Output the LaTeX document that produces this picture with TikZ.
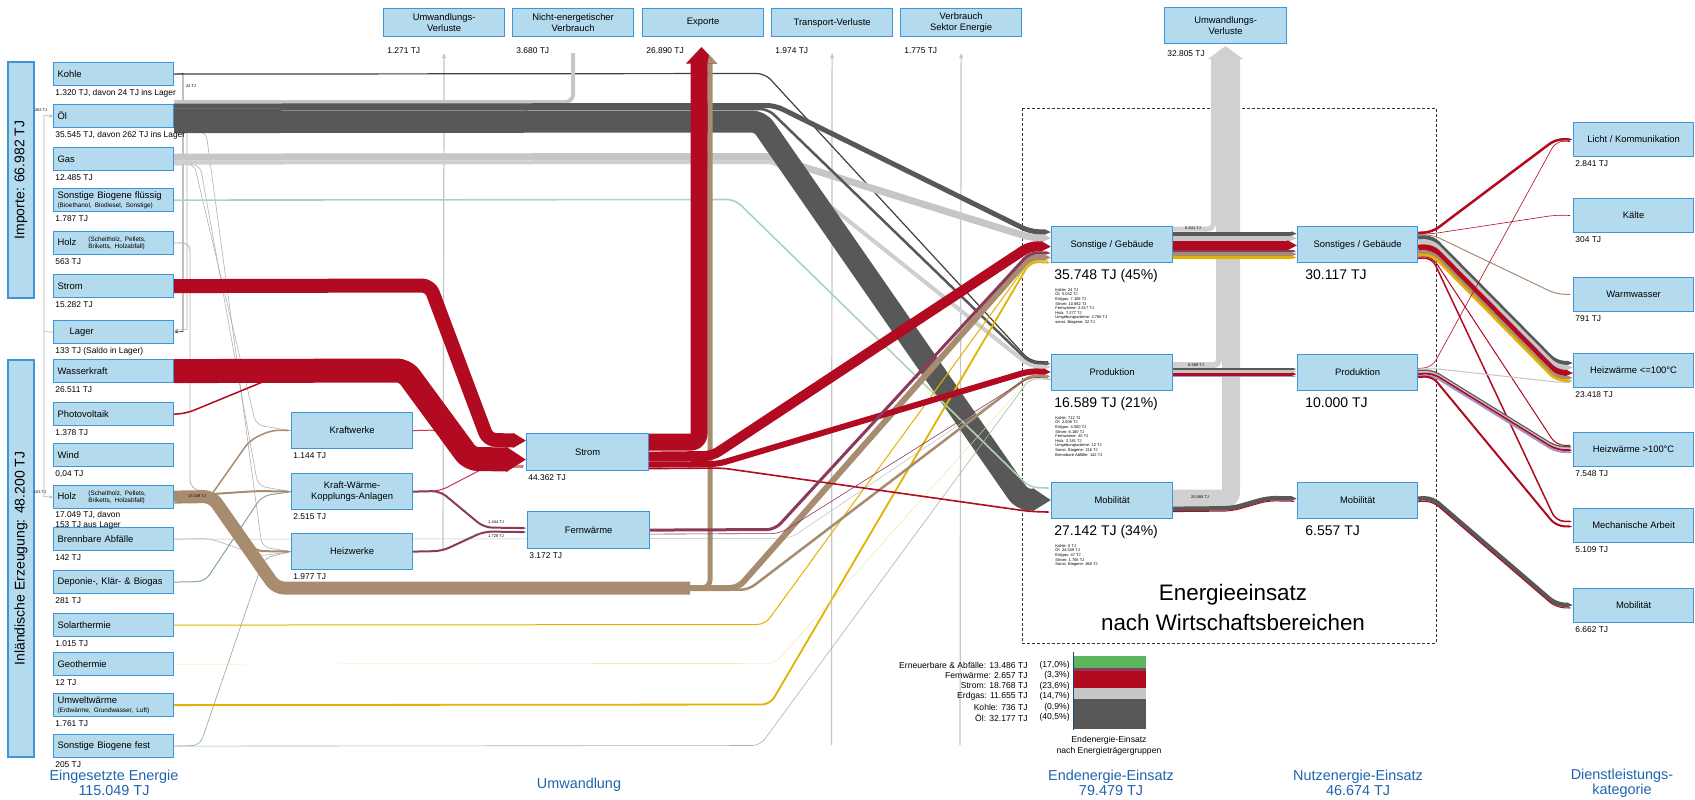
\documentclass[tikz,border=0pt]{standalone}
\usepackage{fontspec}
\setmainfont{Liberation Sans}
\usetikzlibrary{arrows.meta,backgrounds}

\definecolor{boxfill}{RGB}{180,218,238}
\definecolor{boxline}{RGB}{60,150,215}
\definecolor{titleblue}{RGB}{30,100,175}
\definecolor{oelc}{RGB}{88,88,88}
\definecolor{gasc}{RGB}{198,198,198}
\definecolor{stromc}{RGB}{178,10,32}
\definecolor{holzc}{RGB}{168,140,112}
\definecolor{fwc}{RGB}{140,58,92}
\definecolor{solc}{RGB}{226,178,0}
\definecolor{biogc}{RGB}{170,214,184}
\definecolor{lossc}{RGB}{208,208,208}
\definecolor{lavc}{RGB}{160,150,200}
\definecolor{greenc}{RGB}{92,182,92}

\tikzset{
  ebox/.style={draw=boxline, fill=boxfill, line width=0.6pt, font=\fontsize{4.7}{5.6}\selectfont, inner ysep=1pt},
  inbox/.style={ebox, anchor=north west, text width=56pt, inner xsep=2pt, minimum height=11.5pt, align=left},
  cbox/.style={ebox, anchor=north west, minimum width=60.5pt, minimum height=18pt, align=center},
  tbox/.style={cbox, minimum height=14pt},
  vbox/.style={ebox, rotate=90, minimum height=13pt, font=\fontsize{7}{8}\selectfont},
  val/.style={anchor=north west, inner sep=0.5pt, font=\fontsize{4.2}{4.7}\selectfont, align=left},
  bigval/.style={anchor=north west, inner sep=0.5pt, font=\fontsize{7}{8}\selectfont},
  detail/.style={anchor=north west, inner sep=0.5pt, font=\fontsize{2}{2.3}\selectfont, align=left},
  flowlbl/.style={inner sep=0pt, font=\fontsize{2}{2.4}\selectfont},
  coltitle/.style={text=titleblue, align=center, font=\fontsize{7.2}{7.6}\selectfont},
  legtxt/.style={anchor=east, inner sep=0pt, font=\fontsize{4.3}{5}\selectfont},
  bw/.style={line width=#1*0.5pt},
  flowtip/.style={-{Triangle[width=0pt 1,length=1.5pt 0.7]}},
  band/.style={rounded corners=4pt, line join=round},
  thinln/.style={line width=0.3pt, gray!60},
  lossline/.style={line width=0.6pt, gasc, -{Triangle[length=2.5pt,width=2pt]}},
}

\begin{document}
\begin{tikzpicture}[x=0.5pt,y=-0.5pt]
\useasboundingbox (0,0) rectangle (1695,799);

% Eingesetzte Energie
\node[vbox, minimum width=118pt] (importe) at (21,180) {Importe: 66.982 TJ};
\node[vbox, minimum width=198.5pt] (inland) at (21,558.5) {Inländische Erzeugung: 48.200 TJ};

\node[inbox] (kohle) at (53,62) {Kohle};
\node[inbox] (oel) at (53,104) {Öl};
\node[inbox] (gas) at (53,147) {Gas};
\node[inbox] (sbfl) at (53,188) {Sonstige Biogene flüssig\\[-1.2pt]\fontsize{3.2}{3.6}\selectfont (Bioethanol, Biodiesel, Sonstige)};
\node[inbox] (holzim) at (53,231) {Holz\hspace{6pt}\parbox[c]{32pt}{\fontsize{3.2}{3.6}\selectfont (Scheitholz, Pellets,\\ Briketts, Holzabfall)}};
\node[inbox] (stromim) at (53,274) {Strom};
\node[inbox] (lager) at (53,320) {\hspace{6pt}Lager};
\node[inbox] (wasser) at (53,359) {Wasserkraft};
\node[inbox] (pv) at (53,402) {Photovoltaik};
\node[inbox] (wind) at (53,443) {Wind};
\node[inbox] (holz) at (53,485) {Holz\hspace{6pt}\parbox[c]{32pt}{\fontsize{3.2}{3.6}\selectfont (Scheitholz, Pellets,\\ Briketts, Holzabfall)}};
\node[inbox] (abf) at (53,527) {Brennbare Abfälle};
\node[inbox] (dep) at (53,570) {Deponie-, Klär- \& Biogas};
\node[inbox] (solar) at (53,613) {Solarthermie};
\node[inbox] (geo) at (53,652) {Geothermie};
\node[inbox] (umw) at (53,693) {Umweltwärme\\[-1.2pt]\fontsize{3.2}{3.6}\selectfont (Erdwärme, Grundwasser, Luft)};
\node[inbox] (sbfe) at (53,734) {Sonstige Biogene fest};

\node[val] (kohle-v) at ([xshift=0.5pt,yshift=-1pt]kohle.south west) {1.320 TJ, davon 24 TJ ins Lager};
\node[val] (oel-v) at ([xshift=0.5pt,yshift=-1pt]oel.south west) {35.545 TJ, davon 262 TJ ins Lager};
\node[val] (gas-v) at ([xshift=0.5pt,yshift=-1pt]gas.south west) {12.485 TJ};
\node[val] (sbfl-v) at ([xshift=0.5pt,yshift=-1pt]sbfl.south west) {1.787 TJ};
\node[val] (holzim-v) at ([xshift=0.5pt,yshift=-1pt]holzim.south west) {563 TJ};
\node[val] (stromim-v) at ([xshift=0.5pt,yshift=-1pt]stromim.south west) {15.282 TJ};
\node[val] (lager-v) at ([xshift=0.5pt,yshift=-1pt]lager.south west) {133 TJ (Saldo in Lager)};
\node[val] (wasser-v) at ([xshift=0.5pt,yshift=-1pt]wasser.south west) {26.511 TJ};
\node[val] (pv-v) at ([xshift=0.5pt,yshift=-1pt]pv.south west) {1.378 TJ};
\node[val] (wind-v) at ([xshift=0.5pt,yshift=-1pt]wind.south west) {0,04 TJ};
\node[val] (holz-v) at ([xshift=0.5pt,yshift=-0.6pt]holz.south west) {17.049 TJ, davon\\153 TJ aus Lager};
\node[val] (abf-v) at ([xshift=0.5pt,yshift=-1pt]abf.south west) {142 TJ};
\node[val] (dep-v) at ([xshift=0.5pt,yshift=-1pt]dep.south west) {281 TJ};
\node[val] (solar-v) at ([xshift=0.5pt,yshift=-1pt]solar.south west) {1.015 TJ};
\node[val] (geo-v) at ([xshift=0.5pt,yshift=-1pt]geo.south west) {12 TJ};
\node[val] (umw-v) at ([xshift=0.5pt,yshift=-1pt]umw.south west) {1.761 TJ};
\node[val] (sbfe-v) at ([xshift=0.5pt,yshift=-1pt]sbfe.south west) {205 TJ};

% Verluste und Exporte oben
\node[tbox] (uv1) at (383,8) {Umwandlungs-\\Verluste};
\node[tbox] (nev) at (512,8) {Nicht-energetischer\\Verbrauch};
\node[tbox] (exp) at (642,8) {Exporte};
\node[tbox] (tv) at (771,8) {Transport-Verluste};
\node[tbox] (vse) at (900,8) {Verbrauch\\Sektor Energie};
\node[cbox, minimum width=61pt] (uv2) at (1164,7) {Umwandlungs-\\Verluste};

\node[val] (uv1-v) at ([xshift=1.5pt,yshift=-4.5pt]uv1.south west) {1.271 TJ};
\node[val] (nev-v) at ([xshift=1.5pt,yshift=-4.5pt]nev.south west) {3.680 TJ};
\node[val] (exp-v) at ([xshift=1.5pt,yshift=-4.5pt]exp.south west) {26.890 TJ};
\node[val] (tv-v) at ([xshift=1.5pt,yshift=-4.5pt]tv.south west) {1.974 TJ};
\node[val] (vse-v) at ([xshift=1.5pt,yshift=-4.5pt]vse.south west) {1.775 TJ};
\node[val] (uv2-v) at ([xshift=1pt,yshift=-2.5pt]uv2.south west) {32.805 TJ};

% Umwandlung
\node[cbox] (kw) at (291,412) {Kraftwerke};
\node[cbox] (kwk) at (291,473) {Kraft-Wärme-\\Kopplungs-Anlagen};
\node[cbox] (hw) at (291,533) {Heizwerke};
\node[cbox, minimum width=61pt, minimum height=18.5pt] (strom) at (526,433) {Strom};
\node[cbox, minimum width=61pt, minimum height=18.5pt] (fw) at (527,511) {Fernwärme};

\node[val] (kw-v) at ([xshift=0.5pt,yshift=-1pt]kw.south west) {1.144 TJ};
\node[val] (kwk-v) at ([xshift=0.5pt,yshift=-1pt]kwk.south west) {2.515 TJ};
\node[val] (hw-v) at ([xshift=0.5pt,yshift=-1pt]hw.south west) {1.977 TJ};
\node[val] (strom-v) at ([xshift=0.5pt,yshift=-1pt]strom.south west) {44.362 TJ};
\node[val] (fw-v) at ([xshift=0.5pt,yshift=-1pt]fw.south west) {3.172 TJ};

% Endenergie-Einsatz
\node[cbox] (sonst) at (1051,226) {Sonstige / Gebäude};
\node[cbox] (prod) at (1051,354) {Produktion};
\node[cbox] (mob) at (1051,482) {Mobilität};

\node[bigval] (sonst-v) at ([xshift=1pt,yshift=-2.5pt]sonst.south west) {35.748 TJ (45\%)};
\node[bigval] (prod-v) at ([xshift=1pt,yshift=-2.5pt]prod.south west) {16.589 TJ (21\%)};
\node[bigval] (mob-v) at ([xshift=1pt,yshift=-2.5pt]mob.south west) {27.142 TJ (34\%)};
\node[detail] (sonst-d) at ([xshift=0.5pt,yshift=-1.5pt]sonst-v.south west) {Kohle: 24 TJ\\Öl: 5.042 TJ\\Erdgas: 7.108 TJ\\Strom: 10.882 TJ\\Fernwärme: 2.617 TJ\\Holz: 7.277 TJ\\Umgebungswärme: 2.766 TJ\\sonst. Biogene: 32 TJ};
\node[detail] (prod-d) at ([xshift=0.5pt,yshift=-1.5pt]prod-v.south west) {Kohle: 712 TJ\\Öl: 2.606 TJ\\Erdgas: 4.500 TJ\\Strom: 6.180 TJ\\Fernwärme: 40 TJ\\Holz: 2.181 TJ\\Umgebungswärme: 12 TJ\\Sonst. Biogene: 216 TJ\\Brennbare Abfälle: 142 TJ};
\node[detail] (mob-d) at ([xshift=0.5pt,yshift=-1.5pt]mob-v.south west) {Kohle: 0 TJ\\Öl: 24.529 TJ\\Erdgas: 47 TJ\\Strom: 1.706 TJ\\Sonst. Biogene: 860 TJ};

% Nutzenergie-Einsatz
\node[cbox, minimum width=60pt] (sonstN) at (1297,226) {Sonstiges / Gebäude};
\node[cbox, minimum width=60pt] (prodN) at (1297,354) {Produktion};
\node[cbox, minimum width=60pt] (mobN) at (1297,482) {Mobilität};

\node[bigval] (sonstN-v) at ([xshift=3.5pt,yshift=-2.5pt]sonstN.south west) {30.117 TJ};
\node[bigval] (prodN-v) at ([xshift=3.5pt,yshift=-2.5pt]prodN.south west) {10.000 TJ};
\node[bigval] (mobN-v) at ([xshift=3.5pt,yshift=-2.5pt]mobN.south west) {6.557 TJ};

% Dienstleistungskategorie
\node[cbox, minimum width=60pt, minimum height=17pt] (licht) at (1573,122) {Licht / Kommunikation};
\node[cbox, minimum width=60pt, minimum height=17pt] (kaelte) at (1573,198) {Kälte};
\node[cbox, minimum width=60pt, minimum height=17pt] (warm) at (1573,277) {Warmwasser};
\node[cbox, minimum width=60pt, minimum height=17pt] (hw1) at (1573,353) {Heizwärme <=100°C};
\node[cbox, minimum width=60pt, minimum height=17pt] (hw2) at (1573,432) {Heizwärme >100°C};
\node[cbox, minimum width=60pt, minimum height=17pt] (mech) at (1573,508) {Mechanische Arbeit};
\node[cbox, minimum width=60pt, minimum height=17pt] (mobD) at (1573,588) {Mobilität};

\node[val] (licht-v) at ([xshift=0.5pt,yshift=-1pt]licht.south west) {2.841 TJ};
\node[val] (kaelte-v) at ([xshift=0.5pt,yshift=-1pt]kaelte.south west) {304 TJ};
\node[val] (warm-v) at ([xshift=0.5pt,yshift=-1pt]warm.south west) {791 TJ};
\node[val] (hw1-v) at ([xshift=0.5pt,yshift=-1pt]hw1.south west) {23.418 TJ};
\node[val] (hw2-v) at ([xshift=0.5pt,yshift=-1pt]hw2.south west) {7.548 TJ};
\node[val] (mech-v) at ([xshift=0.5pt,yshift=-1pt]mech.south west) {5.109 TJ};
\node[val] (mobD-v) at ([xshift=0.5pt,yshift=-1pt]mobD.south west) {6.662 TJ};

% Titel
\node[coltitle] (t-einsatz) at (114,783) {Eingesetzte Energie\\115.049 TJ};
\node[coltitle] (t-umw) at (579,785) {Umwandlung};
\node[coltitle] (t-end) at (1111,783) {Endenergie-Einsatz\\79.479 TJ};
\node[coltitle] (t-nutz) at (1358,783) {Nutzenergie-Einsatz\\46.674 TJ};
\node[coltitle] (t-dienst) at (1622,783) {Dienstleistungs-\\kategorie};
\node[align=center, font=\fontsize{11.2}{15}\selectfont] (wtitle) at (1233,607) {Energieeinsatz\\nach Wirtschaftsbereichen};

% Legende
\node[legtxt] (l-ern) at (1028,665) {Erneuerbare \& Abfälle: 13.486 TJ};
\node[legtxt] (l-fw) at (1028,675.5) {Fernwärme: 2.657 TJ};
\node[legtxt] (l-str) at (1028,686) {Strom: 18.768 TJ};
\node[legtxt] (l-gas) at (1028,696.5) {Erdgas: 11.655 TJ};
\node[legtxt] (l-koh) at (1028,707) {Kohle: 736 TJ};
\node[legtxt] (l-oel) at (1028,717.5) {Öl: 32.177 TJ};
\node[legtxt] (p-ern) at (1070,665) {(17,0\%)};
\node[legtxt] (p-fw) at (1070,675.5) {(3,3\%)};
\node[legtxt] (p-str) at (1070,686) {(23,6\%)};
\node[legtxt] (p-gas) at (1070,696.5) {(14,7\%)};
\node[legtxt] (p-koh) at (1070,707) {(0,9\%)};
\node[legtxt] (p-oel) at (1070,717.5) {(40,5\%)};
\fill[greenc] (1074,656) rectangle (1146,668.4);
\fill[fwc] (1074,668.4) rectangle (1146,670.8);
\fill[stromc] (1074,670.8) rectangle (1146,688);
\fill[gasc] (1074,688) rectangle (1146,698.7);
\fill[black!85] (1074,698.7) rectangle (1146,699.4);
\fill[oelc] (1074,699.4) rectangle (1146,729);
\draw[line width=0.4pt, boxline!50!black] (1073,652) -- (1073,730);
\node[align=center, font=\fontsize{4.3}{5.4}\selectfont] (l-cap) at (1109,746) {Endenergie-Einsatz\\nach Energieträgergruppen};

% kleine Flussbeschriftungen
\node[flowlbl] (f-kl) at (191,86) {24 TJ};
\node[flowlbl] (f-ol) at (41,110) {262 TJ};
\node[flowlbl] (f-hl) at (40,492) {153 TJ};
\node[flowlbl] (f-holz) at (197,496.5) {17.049 TJ};
\node[flowlbl] (f-fw1) at (496,522) {1.444 TJ};
\node[flowlbl] (f-fw2) at (496,536) {1.728 TJ};
\node[flowlbl] (f-vs) at (1193,228) {5.631 TJ};
\node[flowlbl] (f-vp) at (1196,365) {6.589 TJ};
\node[flowlbl] (f-vm) at (1200,497) {20.585 TJ};

\begin{scope}[on background layer]
\fill[white] (0,0) rectangle (1695,799);
\draw[dash pattern=on 1.5pt off 1pt, line width=0.4pt, black!80] (1022,108) rectangle (1436,643);

% Lager
\coordinate (lj) at (44,331.5);
\draw[thinln, -{Stealth[length=2pt,width=1.5pt]}] (lager.west) -- (lj) -- (44,115.5) -- (oel.west);
\draw[thinln, -{Stealth[length=2pt,width=1.5pt]}] (lj) -- (44,496.5) -- (holz.west);
\draw[line width=0.4pt, black!70, -{Stealth[length=2pt,width=1.5pt]}] (kohle.east) -- (183,73.5) -- (183,331.5) -- (lager.east);
\draw[thinln, -{Stealth[length=2pt,width=1.5pt]}] ([yshift=-7.5pt]oel.east) -- (187,130.5) -- (187,329.5) -- ([yshift=1pt]lager.east);

% Verluste nach oben
\coordinate (uvj) at (443,551);
\coordinate (tvj) at (831.5,745);
\coordinate (vsej) at (960,745);
\draw[lossline] (uvj) -- ([yshift=-8pt]uv1.south);
\draw[lossline] (tvj) -- ([yshift=-8pt]tv.south);
\draw[lossline] (vsej) -- ([yshift=-8pt]vse.south);

% Brennstoffe in Kraftwerke
\draw[thinln, band] ([yshift=-2.5pt]gas.east) -- (194,163.5) -- (256,425) -- (kw.west);
\draw[thinln, band] ([yshift=-3pt]gas.east) -- (200,164.5) -- (258,486) -- (kwk.west);
\draw[thinln, band] ([yshift=-8pt]oel.east) -- (206,131.5) -- (262,547) -- (hw.west);
\draw[thinln, band] (abf.east) -- (210,538.5) -- (260,556) -- (hw.west);
\draw[band, bw=1, biogc!80!black] (dep.east) -- (205,581.5) -- (262,496) -- (kwk.west);
\draw[band, bw=0.6, biogc!80!black] (sbfe.east) -- (200,745.5) -- (264,558) -- (hw.west);

% Kohle, Gas
\draw[band, bw=1.2, black!75, flowtip] (kohle.east) -- (765,73.5) -- (1030,361) -- ([yshift=5.25pt]prod.west);
\draw[band, bw=7, gasc, flowtip] ([yshift=1pt]gas.east) -- (770,156.5) -- (1030,237.5) -- ([yshift=3.25pt]sonst.west);
\draw[band, bw=4, gasc!85!white, flowtip] ([yshift=-1.75pt]gas.east) -- (775,162) -- (1030,366) -- ([yshift=2.75pt]prod.west);

% Oel
\draw[band, bw=4, gasc] ([yshift=7pt]oel.east) -| ([yshift=-8pt]nev.south);
\draw[band, bw=5, oelc, flowtip] ([yshift=5pt]oel.east) -- (775,105.5) -- (1030,231.5) -- ([yshift=6.25pt]sonst.west);
\draw[band, bw=2.5, oelc, flowtip] ([yshift=3.25pt]oel.east) -- (768,109) -- (1030,362.75) -- ([yshift=4.375pt]prod.west);
\draw[band, bw=22, oelc, flowtip] ([yshift=-3pt]oel.east) -- (760,121.5) -- (1022,499.5) -- ([yshift=0.25pt]mob.west);

% Biogene, Solar, Umwelt
\draw[band, bw=1.6, biogc, flowtip] (sbfl.east) -- (735,199.5) -- (1030,487.5) -- ([yshift=6.25pt]mob.west);
\draw[band, bw=1, solc, flowtip] (solar.east) -- (765,624.5) -- (1030,260.5) -- ([yshift=-8.25pt]sonst.west);
\draw[band, bw=1.8, solc, flowtip] (umw.east) -- (770,704.5) -- (1030,262) -- ([yshift=-9pt]sonst.west);
\draw[band, bw=0.4, solc!40] (geo.east) -- (775,663.5) -- (1030,378) -- ([yshift=-3.25pt]prod.west);
\draw[band, bw=0.5, gray!50] (abf.east) -- (790,538.5) -- (1030,377) -- ([yshift=-2.75pt]prod.west);
\draw[band, bw=0.6, biogc!70!gray] (sbfe.east) -- (760,745.5) -- (1030,378.5) -- ([yshift=-3.5pt]prod.west);

% Holz
\coordinate (hj) at (212,494);
\coordinate (hx) at (690,588);
\draw[band, bw=0.8, holzc!70] (holzim.east) -- (190,242.5) -- (190,488) -- (hj);
\draw[band, bw=13, holzc] (holz.east) -- (212,496.5) -- (276,588) -- (hx);
\draw[band, bw=1.5, holzc, flowtip] (hj) -- (250,440) -- (272,430) -- (kw.west);
\draw[band, bw=2, holzc, flowtip] (hj) -- (258,491) -- (kwk.west);
\draw[band, bw=2, holzc, flowtip] (hj) -- (255,551) -- (hw.west);
\draw[band, bw=5, holzc] (hx) -- (710,588) -- (710,63);
\draw[band, bw=6, holzc, flowtip] (hx) -- (738,588) -- (1030,257) -- ([yshift=-6.5pt]sonst.west);
\draw[band, bw=2.5, holzc, flowtip] (hx) -- (748,590) -- (1030,375.25) -- ([yshift=-1.875pt]prod.west);

% Strom
\coordinate (pvj) at (265,381);
\draw[band, bw=1.5, stromc] (pv.east) -- (186,413.5) -- (pvj);
\draw[band, bw=1, stromc!80, flowtip] (kw.east) -- (438,430) -- (486,465) -- ([yshift=-7pt]strom.west);
\draw[band, bw=1, stromc!80, flowtip] (kwk.east) -- (440,491) -- (486,467) -- ([yshift=-7.5pt]strom.west);
\draw[band, bw=14, stromc, flowtip] (stromim.east) -- (430,285.5) -- (488,440) -- ([yshift=5.75pt]strom.west);
\draw[band, bw=24, stromc, flowtip] (wasser.east) -- (405,370.5) -- (470,459) -- ([yshift=-3.75pt]strom.west);
\draw[band, bw=17, stromc] ([yshift=5pt]strom.east) -| (699,63);
\fill[stromc] (686,63.5) -- (701.5,47) -- (717,63.5) -- cycle;
\fill[holzc] (707.5,63.5) -- (717,63.5) -- (709,55) -- cycle;
\draw[band, bw=10, stromc, flowtip] ([yshift=-2.25pt]strom.east) -- (712,456) -- (1030,246) -- ([yshift=-1pt]sonst.west);
\draw[band, bw=6, stromc, flowtip] ([yshift=-6.25pt]strom.east) -- (718,464) -- (1030,371) -- ([yshift=0.25pt]prod.west);
\draw[band, bw=1.6, stromc, flowtip] ([yshift=-8.25pt]strom.east) -- (722,468) -- (1030,511.5) -- ([yshift=-5.75pt]mob.west);

% Fernwaerme
\draw[band, bw=2, fwc, flowtip] (kwk.east) -- (440,491) -- (484,527.5) -- ([yshift=1pt]fw.west);
\draw[band, bw=2, fwc, flowtip] (hw.east) -- (442,551) -- (484,531.5) -- ([yshift=-1pt]fw.west);
\draw[band, bw=3, fwc, flowtip] (fw.east) -- (775,529.5) -- (1030,252.5) -- ([yshift=-4.25pt]sonst.west);
\draw[band, bw=0.6, fwc, flowtip] ([yshift=-2pt]fw.east) -- (780,533.5) -- (1030,377) -- ([yshift=-2.75pt]prod.west);

% Umwandlungsverluste der Wirtschaftsbereiche
\draw[band, bw=5, lossc, rounded corners=3pt] ([yshift=7.75pt]sonst.east) -| (1213.5,58.5);
\draw[band, bw=6, lossc, rounded corners=3pt] ([yshift=3.75pt]prod.east) -| (1219,58.5);
\draw[band, bw=18, lossc, rounded corners=3pt] ([yshift=1pt]mob.east) -| (1231,58.5);
\fill[lossc] (1208,59) -- (1225.5,46) -- (1243,59) -- cycle;

% Endenergie zu Nutzenergie
\draw[bw=4, oelc, flowtip] ([yshift=5.5pt]sonst.east) -- ([yshift=5.5pt]sonstN.west);
\draw[bw=5, gasc, flowtip] ([yshift=3.25pt]sonst.east) -- ([yshift=3.25pt]sonstN.west);
\draw[bw=9.5, stromc, flowtip] ([yshift=-0.375pt]sonst.east) -- ([yshift=-0.375pt]sonstN.west);
\draw[bw=2, fwc, flowtip] ([yshift=-3.25pt]sonst.east) -- ([yshift=-3.25pt]sonstN.west);
\draw[bw=4, holzc, flowtip] ([yshift=-4.75pt]sonst.east) -- ([yshift=-4.75pt]sonstN.west);
\draw[bw=2.5, solc, flowtip] ([yshift=-6.375pt]sonst.east) -- ([yshift=-6.375pt]sonstN.west);
\draw[bw=2, oelc, flowtip] ([yshift=1.75pt]prod.east) -- ([yshift=1.75pt]prodN.west);
\draw[bw=2.5, gasc, flowtip] ([yshift=0.625pt]prod.east) -- ([yshift=0.625pt]prodN.west);
\draw[bw=3, stromc, flowtip] ([yshift=-0.75pt]prod.east) -- ([yshift=-0.75pt]prodN.west);
\draw[bw=1.5, lavc, flowtip] ([yshift=-1.875pt]prod.east) -- ([yshift=-1.875pt]prodN.west);
\draw[band, bw=4.5, oelc, flowtip] ([yshift=-4.125pt]mob.east) -- (1232,508.25) -- (1268,498) -- ([yshift=1pt]mobN.west);
\draw[band, bw=1, stromc, flowtip] ([yshift=-5.5pt]mob.east) -- (1232,511) -- (1268,500.75) -- ([yshift=-0.375pt]mobN.west);

% Nutzenergie zu Dienstleistungen
\draw[band, bw=2.5, stromc, flowtip] ([yshift=5.875pt]sonstN.east) -- (1432,232.25) -- (1556,139) -- (licht.west);
\draw[band, bw=0.6, stromc, flowtip] ([yshift=5.1pt]sonstN.east) -- (1432,233.8) -- (1556,215) -- (kaelte.west);
\draw[band, bw=1, holzc, flowtip] ([yshift=4.7pt]sonstN.east) -- (1432,234.6) -- (1556,294) -- (warm.west);
\draw[band, bw=4, oelc, flowtip] ([yshift=3.5pt]sonstN.east) -- (1432,237) -- (1556,362.5) -- ([yshift=3.75pt]hw1.west);
\draw[band, bw=5, gasc, flowtip] ([yshift=1.25pt]sonstN.east) -- (1432,241.5) -- (1556,367) -- ([yshift=1.5pt]hw1.west);
\draw[band, bw=6, stromc, flowtip] ([yshift=-1.5pt]sonstN.east) -- (1432,247) -- (1556,372.5) -- ([yshift=-1.25pt]hw1.west);
\draw[band, bw=3.5, holzc, flowtip] ([yshift=-3.875pt]sonstN.east) -- (1432,251.75) -- (1556,377.25) -- ([yshift=-3.625pt]hw1.west);
\draw[band, bw=2.5, solc, flowtip] ([yshift=-5.375pt]sonstN.east) -- (1432,254.75) -- (1556,380.25) -- ([yshift=-5.125pt]hw1.west);
\draw[band, bw=1, stromc, flowtip] ([yshift=-6.25pt]sonstN.east) -- (1432,256.5) -- (1556,445) -- ([yshift=2pt]hw2.west);
\draw[band, bw=1.5, stromc, flowtip] ([yshift=-6.875pt]sonstN.east) -- (1432,257.75) -- (1556,521) -- ([yshift=2pt]mech.west);
\draw[band, bw=0.6, stromc, flowtip] ([yshift=2.1pt]prodN.east) -- (1432,367.3) -- (1556,141) -- ([yshift=-1pt]licht.west);
\draw[band, bw=1, gasc, flowtip] ([yshift=1.6pt]prodN.east) -- (1432,368.3) -- (1556,382) -- ([yshift=-6pt]hw1.west);
\draw[band, bw=1.5, oelc, flowtip] ([yshift=0.875pt]prodN.east) -- (1432,369.75) -- (1556,446.5) -- ([yshift=1.25pt]hw2.west);
\draw[band, bw=1.5, gasc, flowtip] ([yshift=0.125pt]prodN.east) -- (1432,371.25) -- (1556,448) -- ([yshift=0.5pt]hw2.west);
\draw[band, bw=2, stromc, flowtip] ([yshift=-0.75pt]prodN.east) -- (1432,373) -- (1556,449.75) -- ([yshift=-0.375pt]hw2.west);
\draw[band, bw=2, lavc, flowtip] ([yshift=-1.75pt]prodN.east) -- (1432,375) -- (1556,451.75) -- ([yshift=-1.375pt]hw2.west);
\draw[band, bw=2, stromc, flowtip] ([yshift=-2.25pt]prodN.east) -- (1432,376) -- (1556,526) -- ([yshift=-0.5pt]mech.west);
\draw[band, bw=4.5, oelc, flowtip] ([yshift=1pt]mobN.east) -- (1432,498) -- (1556,604.5) -- ([yshift=0.25pt]mobD.west);
\draw[band, bw=1, stromc, flowtip] ([yshift=-0.5pt]mobN.east) -- (1432,501) -- (1556,607.5) -- ([yshift=-1.25pt]mobD.west);
\end{scope}
\end{tikzpicture}
\end{document}
